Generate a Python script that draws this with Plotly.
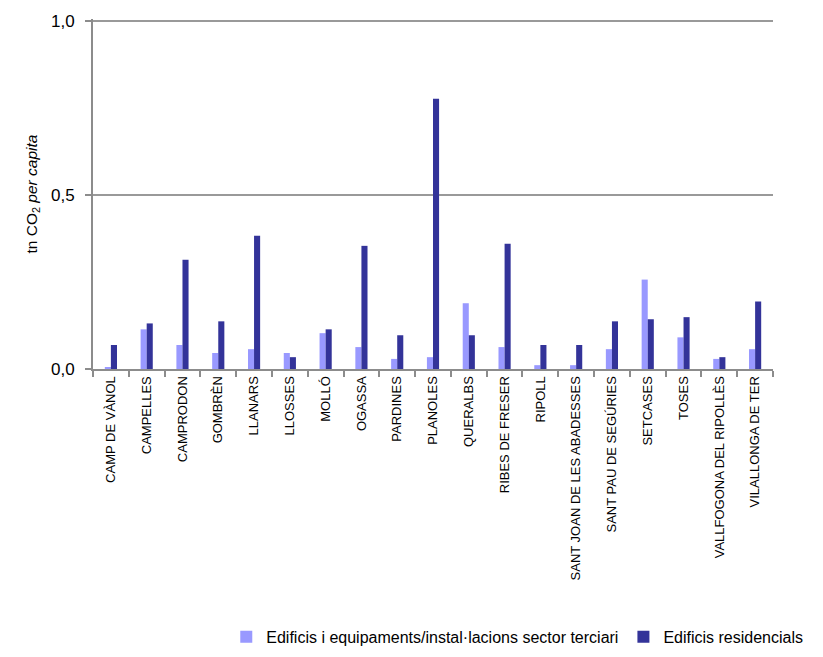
import plotly.graph_objects as go

categories = ["CAMP DE VÀNOL", "CAMPELLES", "CAMPRODON", "GOMBRÈN", "LLANARS", "LLOSSES",
              "MOLLÓ", "OGASSA", "PARDINES", "PLANOLES", "QUERALBS", "RIBES DE FRESER",
              "RIPOLL", "SANT JOAN DE LES ABADESSES", "SANT PAU DE SEGÚRIES", "SETCASES",
              "TOSES", "VALLFOGONA DEL RIPOLLÈS", "VILALLONGA DE TER"]

terciari = [0.005, 0.114, 0.069, 0.046, 0.057, 0.046, 0.103, 0.063, 0.029, 0.034,
            0.189, 0.063, 0.011, 0.011, 0.057, 0.257, 0.091, 0.029, 0.057]
residencial = [0.069, 0.131, 0.314, 0.137, 0.383, 0.034, 0.114, 0.354, 0.097, 0.777,
               0.097, 0.360, 0.069, 0.069, 0.137, 0.143, 0.149, 0.034, 0.194]

y_ticks = [0.0, 0.5, 1.0]
y_labels = ["0,0", "0,5", "1,0"]

fig = go.Figure()
fig.add_bar(x=categories, y=terciari, name="Edificis i equipaments/instal·lacions sector terciari",
            marker=dict(color="#9999FF", line=dict(width=0)))
fig.add_bar(x=categories, y=residencial, name="Edificis residencials",
            marker=dict(color="#333399", line=dict(width=0)))

fig.update_layout(
    width=823, height=657,
    margin=dict(l=85, r=58, t=11, b=294),
    paper_bgcolor="white", plot_bgcolor="white",
    barmode="group", bargap=0.66, bargroupgap=0,
    font=dict(family="Liberation Sans, Arial, sans-serif", color="black"),
    showlegend=True,
    legend=dict(orientation="h", x=0.196, xanchor="left", y=-0.765, yanchor="middle",
                font=dict(size=16), itemwidth=30, tracegroupgap=0,
                bgcolor="rgba(0,0,0,0)"),
    yaxis=dict(range=[0, 1.006], tickvals=y_ticks, ticktext=y_labels, automargin=False,
               showgrid=True, gridcolor="#999999", gridwidth=2,
               showline=True, linecolor="#8c8c8c", linewidth=2,
               ticks="outside", ticklen=6, tickcolor="#8c8c8c", tickwidth=2,
               ticklabelstandoff=7,
               tickfont=dict(size=17), zeroline=False,
               title=dict(text="tn CO<sub>2</sub> <i>per capita</i>", font=dict(size=15.5), standoff=10)),
    xaxis=dict(showline=True, linecolor="#8c8c8c", linewidth=2, automargin=False,
               ticks="outside", ticklen=6, tickcolor="#8c8c8c", tickwidth=2,
               tickson="boundaries", tickangle=-90, tickfont=dict(size=13),
               showgrid=False),
)

fig.write_html("out.html")
